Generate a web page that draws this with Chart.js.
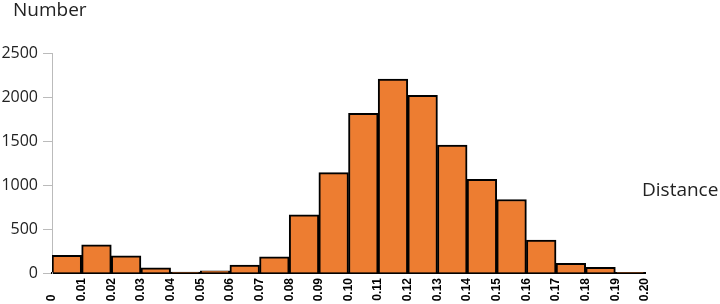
<!DOCTYPE html>
<html>
<head>
<meta charset="utf-8">
<script src="https://cdn.jsdelivr.net/npm/chart.js@4/dist/chart.umd.min.js"></script>
<style>
  html, body { margin: 0; padding: 0; background: #fff; }
  #wrap { width: 720px; height: 304px; position: relative; }
</style>
</head>
<body>
<div id="wrap"><canvas id="histChart"></canvas></div>
<script>
// bin centres (distance) and counts
const binCentres = [0.005, 0.015, 0.025, 0.035, 0.045, 0.055, 0.065, 0.075, 0.085, 0.095,
                    0.105, 0.115, 0.125, 0.135, 0.145, 0.155, 0.165, 0.175, 0.185, 0.195];
const counts = [200, 320, 195, 60, 10, 25, 90, 185, 660, 1140,
                1815, 2205, 2020, 1455, 1065, 835, 375, 110, 65, 4];
const yTicks = [0, 500, 1000, 1500, 2000, 2500];
const xMin = 0, xMax = 0.2, xStep = 0.01;

// ================= AXIS TITLES =================
const axisTitles = {
  id: "axisTitles",
  afterDraw(chart) {
    const c = chart.ctx;
    c.save();
    c.fillStyle = "#222";
    c.textBaseline = "alphabetic";
    c.textAlign = "left";
    c.font = "19px 'Open Sans'";
    c.fillText("Number", 13, 16);
    c.fillText("Distance", 642, 196);
    c.restore();
  }
};

const ctx = document.getElementById("histChart").getContext("2d");
new Chart(ctx, {
  type: "bar",
  data: {
    datasets: [{
      data: binCentres.map((x, i) => ({ x: x, y: counts[i] })),
      backgroundColor: "#ED7D31",
      borderColor: "#000",
      borderWidth: 2,
      barPercentage: 1,
      categoryPercentage: 1
    }]
  },
  options: {
    responsive: true,
    maintainAspectRatio: false,
    animation: false,
    layout: { padding: { top: 53, right: 75, left: 0, bottom: 0 } },
    plugins: { legend: { display: false }, tooltip: { enabled: false } },
    scales: {
      x: {
        type: "linear",
        min: xMin,
        max: xMax,
        offset: false,
        grid: { display: false, drawTicks: false },
        border: { color: "#000", width: 2 },
        afterFit: axis => { axis.height = 31; },
        ticks: {
          stepSize: xStep,
          minRotation: 90,
          maxRotation: 90,
          autoSkip: false,
          padding: 5,
          color: "#000",
          font: { family: "'Liberation Sans'", size: 12, weight: "bold" },
          // pad the lone "0" (figure + punctuation spaces) so it sits at the far end like "0.01"
          callback: v => (Math.abs(v) < 1e-9 ? "0\u2007\u2007\u2008" : v.toFixed(2))
        }
      },
      y: {
        min: 0,
        max: 2500,
        afterBuildTicks: axis => { axis.ticks = yTicks.map(v => ({ value: v })); },
        afterFit: axis => { axis.width = 52; },
        grid: { drawOnChartArea: false, drawTicks: true, tickLength: 9, color: "#bbb" },
        border: { color: "#bbb", width: 1 },
        ticks: {
          padding: 5,
          color: "#222",
          font: { family: "'Open Sans'", size: 16 },
          callback: v => String(v)
        }
      }
    }
  },
  plugins: [axisTitles]
});
</script>
</body>
</html>
